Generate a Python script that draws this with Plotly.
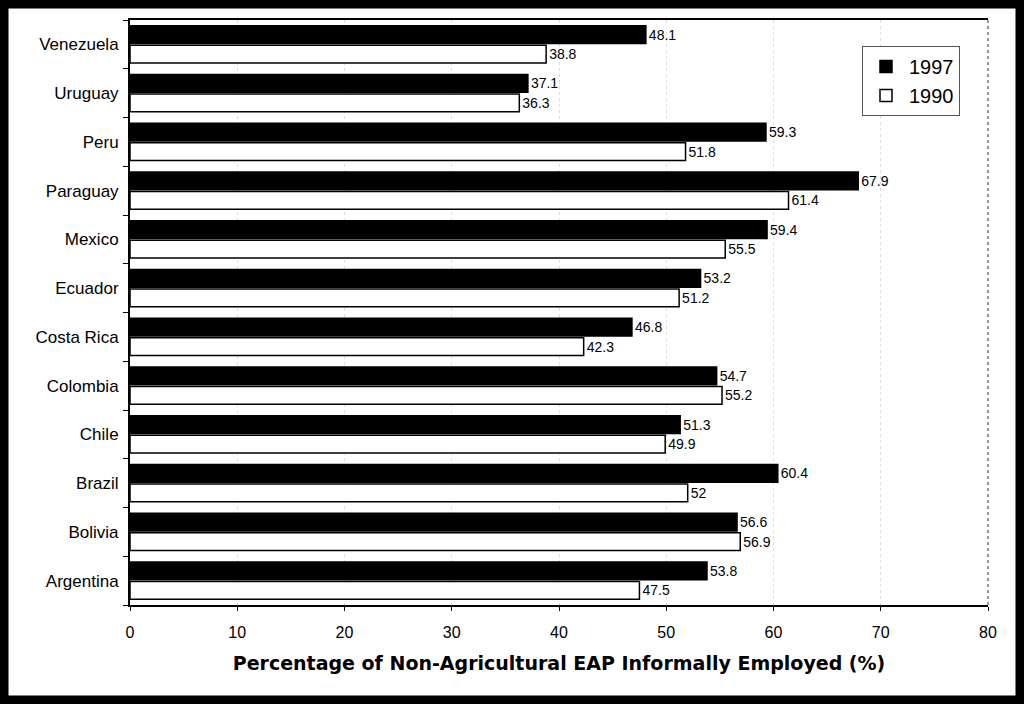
import plotly.graph_objects as go

countries = ["Argentina", "Bolivia", "Brazil", "Chile", "Colombia", "Costa Rica",
             "Ecuador", "Mexico", "Paraguay", "Peru", "Uruguay", "Venezuela"]
v1997 = [53.8, 56.6, 60.4, 51.3, 54.7, 46.8, 53.2, 59.4, 67.9, 59.3, 37.1, 48.1]
v1990 = [47.5, 56.9, 52, 49.9, 55.2, 42.3, 51.2, 55.5, 61.4, 51.8, 36.3, 38.8]
x_ticks = [0, 10, 20, 30, 40, 50, 60, 70, 80]

narrow = "Liberation Sans Narrow, Arial Narrow, Liberation Sans, Arial, sans-serif"
sans = "Liberation Sans, Arial, sans-serif"

fig = go.Figure()
fig.add_trace(go.Bar(
    y=countries, x=v1990, orientation="h", name="1990",
    marker=dict(color="white", line=dict(color="black", width=1.5)),
    text=[f"{v:g}" for v in v1990], textposition="outside",
    textfont=dict(family=narrow, size=14, color="black"), cliponaxis=False,
))
fig.add_trace(go.Bar(
    y=countries, x=v1997, orientation="h", name="1997",
    marker=dict(color="black", line=dict(color="black", width=1.5)),
    text=[f"{v:g}" for v in v1997], textposition="outside",
    textfont=dict(family=narrow, size=14, color="black"), cliponaxis=False,
))

W, H = 1024, 704
ml, mr, mt, mb = 130, 36, 20, 99
pw, ph = W - ml - mr, H - mt - mb

def px2paper_x(px):
    return (px - ml) / pw

def px2paper_y(py):
    return 1 - (py - mt) / ph

fig.update_layout(
    width=W, height=H,
    margin=dict(l=ml, r=mr, t=mt, b=mb),
    paper_bgcolor="white", plot_bgcolor="white",
    barmode="group", bargap=0.2, bargroupgap=0.08,
    showlegend=True,
    legend=dict(
        x=px2paper_x(862), y=px2paper_y(46), xanchor="left", yanchor="top",
        traceorder="reversed", bgcolor="white", bordercolor="#555", borderwidth=1,
        font=dict(family=sans, size=20, color="black"),
        itemwidth=36, tracegroupgap=0,
    ),
    xaxis=dict(
        range=[0, 80], tickvals=x_ticks, ticktext=[str(t) for t in x_ticks],
        showgrid=True, gridcolor="#dddddd", griddash="dot", gridwidth=1,
        showline=True, linecolor="black", linewidth=2, mirror=True,
        ticks="outside", ticklen=4, tickcolor="black", ticklabelstandoff=8,
        tickfont=dict(family=narrow, size=16, color="black"),
        zeroline=False,
        title=dict(text="<b>Percentage of Non-Agricultural EAP Informally Employed (%)</b>",
                   font=dict(family="DejaVu Sans, Liberation Sans, Arial, sans-serif",
                             size=19, color="black"), standoff=16),
    ),
    yaxis=dict(
        categoryorder="array", categoryarray=countries,
        showline=True, linecolor="black", linewidth=2, mirror=False,
        ticks="outside", ticklen=5, tickcolor="black", tickson="boundaries",
        ticklabelstandoff=6,
        tickfont=dict(family=sans, size=17, color="black"),
        showgrid=False,
    ),
    shapes=[
        dict(type="line", xref="paper", yref="paper", x0=1, x1=1, y0=0, y1=1,
             line=dict(color="#777777", width=1.5, dash="dot"), layer="above"),
        dict(type="rect", xref="paper", yref="paper",
             x0=px2paper_x(4), x1=px2paper_x(W - 4),
             y0=px2paper_y(H - 4), y1=px2paper_y(4),
             line=dict(color="black", width=9), fillcolor="rgba(0,0,0,0)",
             layer="above"),
    ],
)

fig.write_html("out.html")
